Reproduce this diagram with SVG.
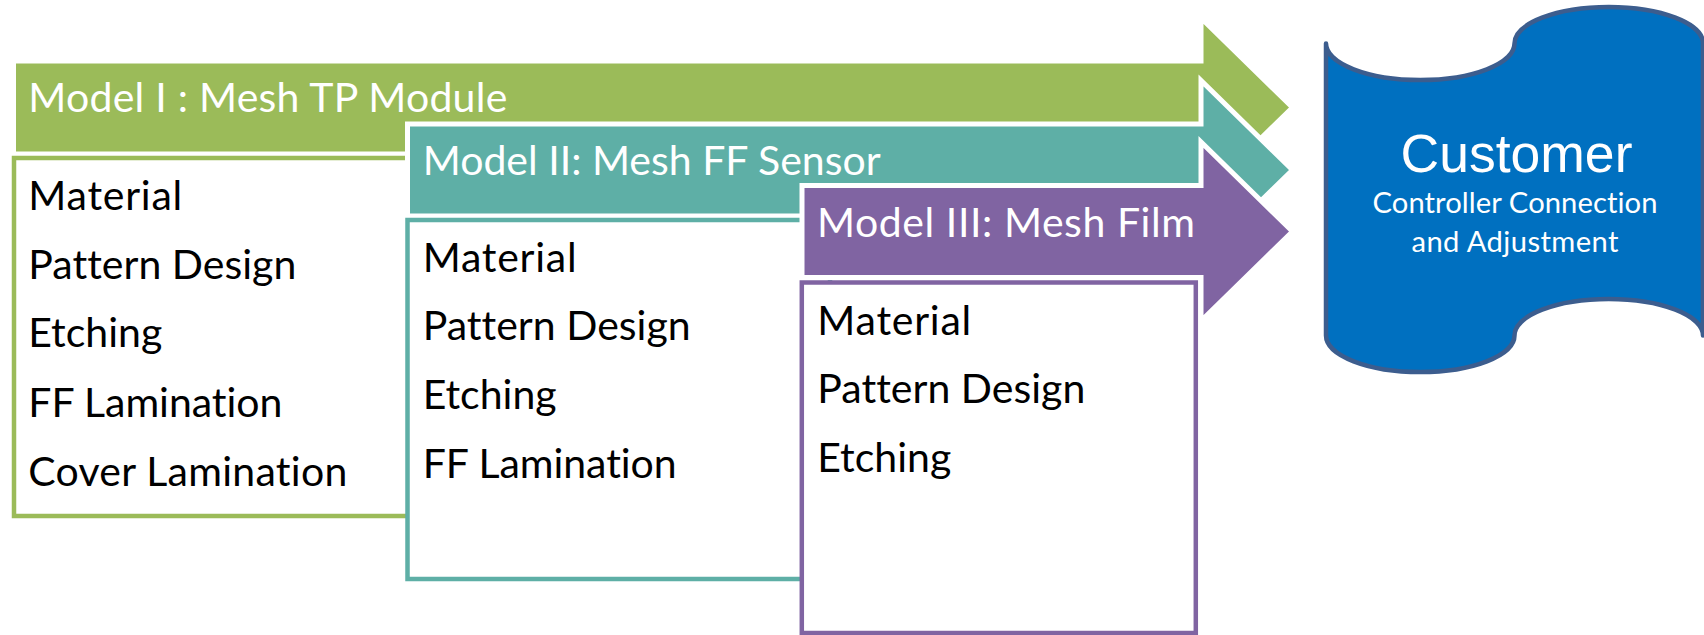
<svg xmlns="http://www.w3.org/2000/svg" width="1704" height="635" viewBox="0 0 1704 635">
  <style>
    text { font-variant-ligatures: none; font-feature-settings: "liga" 0, "clig" 0; }
    .bar { stroke: #ffffff; stroke-width: 5; stroke-linejoin: miter; }
    .box { fill: #ffffff; stroke-width: 4.5; }
    .title { font-family: Lato, "Carlito", "Liberation Sans", sans-serif; font-size: 41px; fill: #ffffff; }
    .item { font-family: Lato, "Carlito", "Liberation Sans", sans-serif; font-size: 41px; fill: #000000; }
    .green { fill: #9BBB59; }
    .teal { fill: #5EAFA6; }
    .purple { fill: #8064A2; }
  </style>
  <rect width="1704" height="635" fill="#ffffff"/>

  <!-- Model I -->
  <g id="model1-arrow">
    <path class="bar green" d="M13.5,61 H1201 V18 L1292.5,107.5 L1201,197 V154 H13.5 Z"/>
    <text class="title" x="28.3" y="111.7" textLength="479">Model I : Mesh TP Module</text>
  </g>
  <g id="model1-steps">
    <rect class="box" x="14" y="158" width="426" height="358" stroke="#9BBB59"/>
    <text class="item" x="28.3" y="210" textLength="154">Material</text>
    <text class="item" x="28.3" y="278.5" textLength="268">Pattern Design</text>
    <text class="item" x="28.3" y="347" textLength="134">Etching</text>
    <text class="item" x="28.3" y="416.5" textLength="254">FF Lamination</text>
    <text class="item" x="28.3" y="485.5" textLength="319">Cover Lamination</text>
  </g>

  <!-- Model II -->
  <g id="model2-arrow">
    <path class="bar teal" d="M407.5,124 H1201 V80.5 L1292.5,170 L1201,259.5 V216 H407.5 Z"/>
    <text class="title" x="422.7" y="175" textLength="458">Model II: Mesh FF Sensor</text>
  </g>
  <g id="model2-steps">
    <rect class="box" x="407.5" y="220" width="422.5" height="359" stroke="#5EAFA6"/>
    <text class="item" x="422.7" y="271.7" textLength="154">Material</text>
    <text class="item" x="422.7" y="340.3" textLength="268">Pattern Design</text>
    <text class="item" x="422.7" y="409" textLength="134">Etching</text>
    <text class="item" x="422.7" y="477.5" textLength="254">FF Lamination</text>
  </g>

  <!-- Model III -->
  <g id="model3-arrow">
    <path class="bar purple" d="M802,185.5 H1201 V142 L1292.5,231.5 L1201,321 V277.5 H802 Z"/>
    <text class="title" x="817" y="236.7" textLength="378">Model III: Mesh Film</text>
  </g>
  <g id="model3-steps">
    <rect class="box" x="801.8" y="282.5" width="394" height="350.5" stroke="#8064A2"/>
    <text class="item" x="817.3" y="334.5" textLength="154">Material</text>
    <text class="item" x="817.3" y="403.3" textLength="268">Pattern Design</text>
    <text class="item" x="817.3" y="471.7" textLength="134">Etching</text>
  </g>

  <!-- Customer: punched-tape banner -->
  <g id="customer">
    <path d="M1326,43.5 A94.25,36.5 0 0 0 1514.5,43.5 A94.25,36.5 0 0 1 1703,43.5 L1703,335.5 A94.25,36.5 0 0 0 1514.5,335.5 A94.25,36.5 0 0 1 1326,335.5 Z"
          fill="#0070C0" stroke="#3C5D8E" stroke-width="4.5" stroke-linejoin="round"/>
    <text x="1516.5" y="171.7" text-anchor="middle" font-family="'Liberation Sans', Arial, sans-serif" font-size="53.5" fill="#ffffff">Customer</text>
    <text x="1515" y="213.3" text-anchor="middle" font-family="Lato, 'Liberation Sans', sans-serif" font-size="29.2" fill="#ffffff" textLength="285">Controller Connection</text>
    <text x="1515" y="251.7" text-anchor="middle" font-family="Lato, 'Liberation Sans', sans-serif" font-size="29.2" fill="#ffffff" textLength="207">and Adjustment</text>
  </g>
</svg>
